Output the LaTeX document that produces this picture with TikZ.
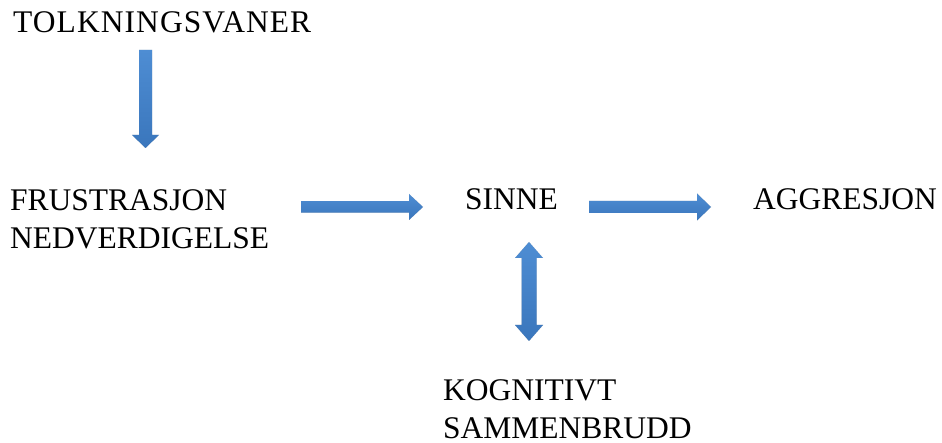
\documentclass[tikz,border=0pt]{standalone}
\usepackage{fontspec}
\setmainfont{Liberation Serif}
\usetikzlibrary{calc}
\definecolor{arrtop}{HTML}{4E8DD3}
\definecolor{arrbot}{HTML}{3A76BC}
\begin{document}
\begin{tikzpicture}[x=1pt,y=1pt,
  lbl/.style={inner sep=0pt,font=\fontsize{31.5}{37.5}\selectfont,align=left},
  arrbody/.style={top color=arrtop,bottom color=arrbot,draw=none},
  arrshadow/.style={fill=black,fill opacity=0.13,draw=none}]
\useasboundingbox (0,0) rectangle (942,443);
% text nodes
\node[lbl,anchor=base west] (tolk) at (13,410) {\addfontfeature{LetterSpace=3.4}TOLKNINGSVANER};
\node[lbl,anchor=north west] (frus) at (10,253.5) {FRUSTRASJON\\NEDVERDIGELSE};
\node[lbl,anchor=base west] (sinne) at (465,233) {SINNE};
\node[lbl,anchor=base west] (aggr) at (753,233) {AGGRESJON};
\node[lbl,anchor=north west] (kogn) at (443,63.5) {KOGNITIVT\\SAMMENBRUDD};
% arrow end points
\coordinate (a1s) at (145.5,393);
\coordinate (a1e) at (145.5,295);
\coordinate (a2s) at (301,236);
\coordinate (a2e) at (423,236);
\coordinate (a3s) at (529,201);
\coordinate (a3e) at (529,102);
\coordinate (a4s) at (589,236);
\coordinate (a4e) at (711,236);
% shadows
\foreach \d in {(2,-3),(3.5,-4.5)}{
\fill[arrshadow,shift={\d}] ($(a1s)+(-6.5,0)$) -- ($(a1e)+(-6.5,13)$) -- ($(a1e)+(-13.5,13)$) -- (a1e) -- ($(a1e)+(13.5,13)$) -- ($(a1e)+(6.5,13)$) -- ($(a1s)+(6.5,0)$) -- cycle;
\fill[arrshadow,shift={\d}] ($(a2s)+(0,5.75)$) -- ($(a2e)+(-14,5.75)$) -- ($(a2e)+(-14,13)$) -- (a2e) -- ($(a2e)+(-14,-13)$) -- ($(a2e)+(-14,-5.75)$) -- ($(a2s)+(0,-5.75)$) -- cycle;
\fill[arrshadow,shift={\d}] (a3s) -- ($(a3s)+(14,-16)$) -- ($(a3s)+(7.5,-16)$) -- ($(a3e)+(7.5,16)$) -- ($(a3e)+(14,16)$) -- (a3e) -- ($(a3e)+(-14,16)$) -- ($(a3e)+(-7.5,16)$) -- ($(a3s)+(-7.5,-16)$) -- ($(a3s)+(-14,-16)$) -- cycle;
\fill[arrshadow,shift={\d}] ($(a4s)+(0,6)$) -- ($(a4e)+(-14,6)$) -- ($(a4e)+(-14,13.5)$) -- (a4e) -- ($(a4e)+(-14,-13.5)$) -- ($(a4e)+(-14,-6)$) -- ($(a4s)+(0,-6)$) -- cycle;
}
% arrows
\path[arrbody] ($(a1s)+(-6.5,0)$) -- ($(a1e)+(-6.5,13)$) -- ($(a1e)+(-13.5,13)$) -- (a1e) -- ($(a1e)+(13.5,13)$) -- ($(a1e)+(6.5,13)$) -- ($(a1s)+(6.5,0)$) -- cycle;
\path[arrbody] ($(a2s)+(0,5.75)$) -- ($(a2e)+(-14,5.75)$) -- ($(a2e)+(-14,13)$) -- (a2e) -- ($(a2e)+(-14,-13)$) -- ($(a2e)+(-14,-5.75)$) -- ($(a2s)+(0,-5.75)$) -- cycle;
\path[arrbody] (a3s) -- ($(a3s)+(14,-16)$) -- ($(a3s)+(7.5,-16)$) -- ($(a3e)+(7.5,16)$) -- ($(a3e)+(14,16)$) -- (a3e) -- ($(a3e)+(-14,16)$) -- ($(a3e)+(-7.5,16)$) -- ($(a3s)+(-7.5,-16)$) -- ($(a3s)+(-14,-16)$) -- cycle;
\path[arrbody] ($(a4s)+(0,6)$) -- ($(a4e)+(-14,6)$) -- ($(a4e)+(-14,13.5)$) -- (a4e) -- ($(a4e)+(-14,-13.5)$) -- ($(a4e)+(-14,-6)$) -- ($(a4s)+(0,-6)$) -- cycle;
\end{tikzpicture}
\end{document}
